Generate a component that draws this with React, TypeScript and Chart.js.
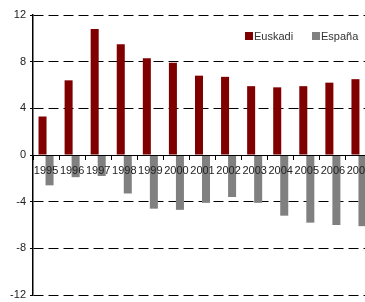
import React, { useEffect, useRef } from "react";
import { Chart, registerables } from "chart.js";

Chart.register(...registerables);

const years = ["1995", "1996", "1997", "1998", "1999", "2000", "2001", "2002", "2003", "2004", "2005", "2006", "2007"];
const euskadi = [3.3, 6.4, 10.8, 9.5, 8.3, 7.9, 6.8, 6.7, 5.9, 5.8, 5.9, 6.2, 6.5];
const espana = [-2.6, -1.9, -1.8, -3.3, -4.6, -4.7, -4.1, -3.6, -4.1, -5.2, -5.8, -6.0, -6.1];
const seriesNames = ["Euskadi", "España"];
const seriesColors = ["#800000", "#808080"];

const FONT = "'Liberation Sans', Arial, sans-serif";

const legendPlugin = {
  id: "insideLegend",
  afterDraw(chart: any) {
    const ctx = chart.ctx;
    ctx.save();
    ctx.font = `11px ${FONT}`;
    ctx.textBaseline = "middle";
    ctx.textAlign = "left";
    const positions = [245, 312];
    const y = 36;
    chart.data.datasets.forEach((ds: any, i: number) => {
      const x = positions[i];
      ctx.fillStyle = ds.backgroundColor;
      ctx.fillRect(x, y - 4, 8, 8);
      ctx.fillStyle = "#333333";
      ctx.fillText(ds.label, x + 9, y + 1);
    });
    ctx.restore();
  },
};

export default function App() {
  const ref = useRef<HTMLCanvasElement>(null);
  useEffect(() => {
    if (!ref.current) return;
    const chart = new Chart(ref.current, {
      type: "bar",
      data: {
        labels: years,
        datasets: [
          { label: seriesNames[0], data: euskadi, backgroundColor: seriesColors[0] },
          { label: seriesNames[1], data: espana, backgroundColor: seriesColors[1] },
        ],
      },
      options: {
        responsive: false,
        animation: false,
        events: [],
        datasets: {
          bar: { categoryPercentage: 14 / 26, barPercentage: 8 / 7 },
        },
        layout: { padding: { top: 15, bottom: 7, left: 0, right: 0 } },
        plugins: { legend: { display: false }, tooltip: { enabled: false } },
        scales: {
          x: {
            position: { y: 0 } as any,
            afterFit(scale: any) {
              scale.paddingLeft = 0;
              scale.paddingRight = 0;
              scale.paddingTop = 0;
              scale.paddingBottom = 0;
            },
            grid: { display: true, drawOnChartArea: false, drawTicks: true, tickLength: 4, color: "#000", offset: true, z: 1 },
            border: { display: true, color: "#000", width: 1, z: 1 },
            ticks: { color: "#222", font: { family: FONT, size: 11 }, padding: 5, maxRotation: 0, autoSkip: false, z: 2 },
          },
          y: {
            min: -12,
            max: 12,
            afterFit(scale: any) {
              scale.width = 33;
              scale.paddingTop = 0;
              scale.paddingBottom = 0;
            },
            grid: { color: "#000", lineWidth: 1, drawTicks: true, tickLength: 3 },
            border: { display: true, color: "#000", width: 1.5, dash: [10, 5] },
            ticks: { stepSize: 4, color: "#222", font: { family: FONT, size: 11 }, padding: 4 },
          },
        },
      },
      plugins: [legendPlugin],
    });
    return () => chart.destroy();
  }, []);
  return (
    <div style={{ position: "fixed", left: 0, top: 0, width: 365, height: 302, overflow: "hidden", background: "#fff" }}>
      <canvas ref={ref} width={372} height={302} style={{ display: "block", width: 372, height: 302 }} />
    </div>
  );
}
